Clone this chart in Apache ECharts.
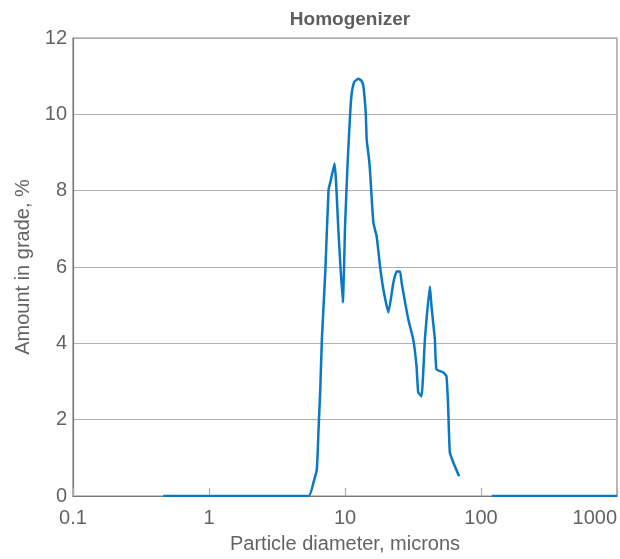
<!DOCTYPE html>
<html>
<head>
<meta charset="utf-8">
<script src="https://cdn.jsdelivr.net/npm/echarts@6/dist/echarts.min.js"></script>
<style>html,body{margin:0;padding:0;background:#fff}#c{width:620px;height:559px}</style>
</head>
<body>
<div id="c"></div>
<script>
const titleText = "Homogenizer";
const xAxisName = "Particle diameter, microns";
const yAxisName = "Amount in grade, %";
const xTickLabels = [0.1, 1, 10, 100, 1000];

// main curve: particle diameter (microns) and amount (%)
const mainDiameters = [0.46, 5.40, 5.88, 6.21, 6.39, 6.58, 6.76, 7.16, 7.57, 7.79, 8.38, 8.96, 9.63, 10.03, 10.48, 10.92, 11.21, 11.74, 12.56, 13.21, 13.66, 13.90, 14.21, 14.44, 15.04, 15.30, 16.17, 17.10, 18.11, 19.15, 20.84, 22.67, 23.96, 25.38, 26.08, 29.19, 31.76, 33.57, 34.55, 36.52, 38.68, 42.10, 43.25, 45.80, 47.05, 52.68, 55.70, 57.32, 58.98, 62.36, 69.0];
const mainAmounts   = [0,    0,    0.37, 0.71, 1.75, 2.80, 4.10, 5.86, 8.03, 8.21, 8.71, 6.90, 5.07, 7.16,  8.81,  10.04, 10.56, 10.86, 10.93, 10.88, 10.73, 10.47, 10.04, 9.33,  8.81,  8.47,  7.16,  6.80,  6.01,  5.41,  4.81,  5.59,  5.88,  5.88,  5.59,  4.63,  4.10,  3.40,  2.72,  2.61,  4.10,  5.49,  4.97,  4.10,  3.32,  3.24,  3.14,  2.35,  1.15,  0.89,  0.52];

// tail segment
const tailDiameters = [120, 1000];
const tailAmounts   = [0, 0];

const pairs = (xs, ys) => xs.map((x, i) => [x, ys[i]]);
const lineColor = '#0a78c4';
const textColor = '#636363';
const fontFam = '"Liberation Sans", Arial, sans-serif';

const chart = echarts.init(document.getElementById('c'), null, {renderer: 'canvas'});
chart.setOption({
  animation: false,
  backgroundColor: '#fff',
  title: {
    text: titleText,
    left: 345, textAlign: 'center', top: 5,
    textStyle: {fontSize: 19, fontWeight: 'bold', color: '#5e5e5e', fontFamily: fontFam}
  },
  grid: {left: 73, right: 3, top: 38, bottom: 62, show: true, borderColor: '#8a8a8a', borderWidth: 1.2, containLabel: false},
  xAxis: {
    type: 'log', logBase: 10, min: 0.1, max: 1000,
    name: xAxisName, nameLocation: 'middle', nameGap: 38,
    nameTextStyle: {fontSize: 20, color: textColor, fontFamily: fontFam},
    axisLine: {show: true, onZero: false, lineStyle: {color: '#7a7a7a', width: 1.2}},
    axisTick: {show: true, inside: true, length: 8, lineStyle: {color: '#aaa', width: 1.2}},
    axisLabel: {
      fontSize: 20, color: textColor, fontFamily: fontFam, margin: 12, alignMaxLabel: 'right',
      formatter: v => { const m = xTickLabels.find(t => Math.abs(t - v) / t < 1e-6); return m !== undefined ? String(m) : ''; }
    },
    splitLine: {show: false},
    minorTick: {show: false}
  },
  yAxis: {
    type: 'value', min: 0, max: 12, interval: 2,
    name: yAxisName, nameLocation: 'middle', nameGap: 31,
    nameTextStyle: {fontSize: 20, color: textColor, fontFamily: fontFam},
    axisLine: {show: true, lineStyle: {color: '#7a7a7a', width: 1.2}},
    axisTick: {show: false},
    axisLabel: {fontSize: 20, color: textColor, fontFamily: fontFam, margin: 6},
    splitLine: {show: true, lineStyle: {color: '#b0b0b0', width: 1.2}}
  },
  series: [
    {type: 'line', data: pairs(mainDiameters, mainAmounts), showSymbol: false, symbol: 'none',
     lineStyle: {color: lineColor, width: 2.5}, smooth: 0.15},
    {type: 'line', data: pairs(tailDiameters, tailAmounts), showSymbol: false, symbol: 'none',
     lineStyle: {color: lineColor, width: 2.5}}
  ]
});
</script>
</body>
</html>
